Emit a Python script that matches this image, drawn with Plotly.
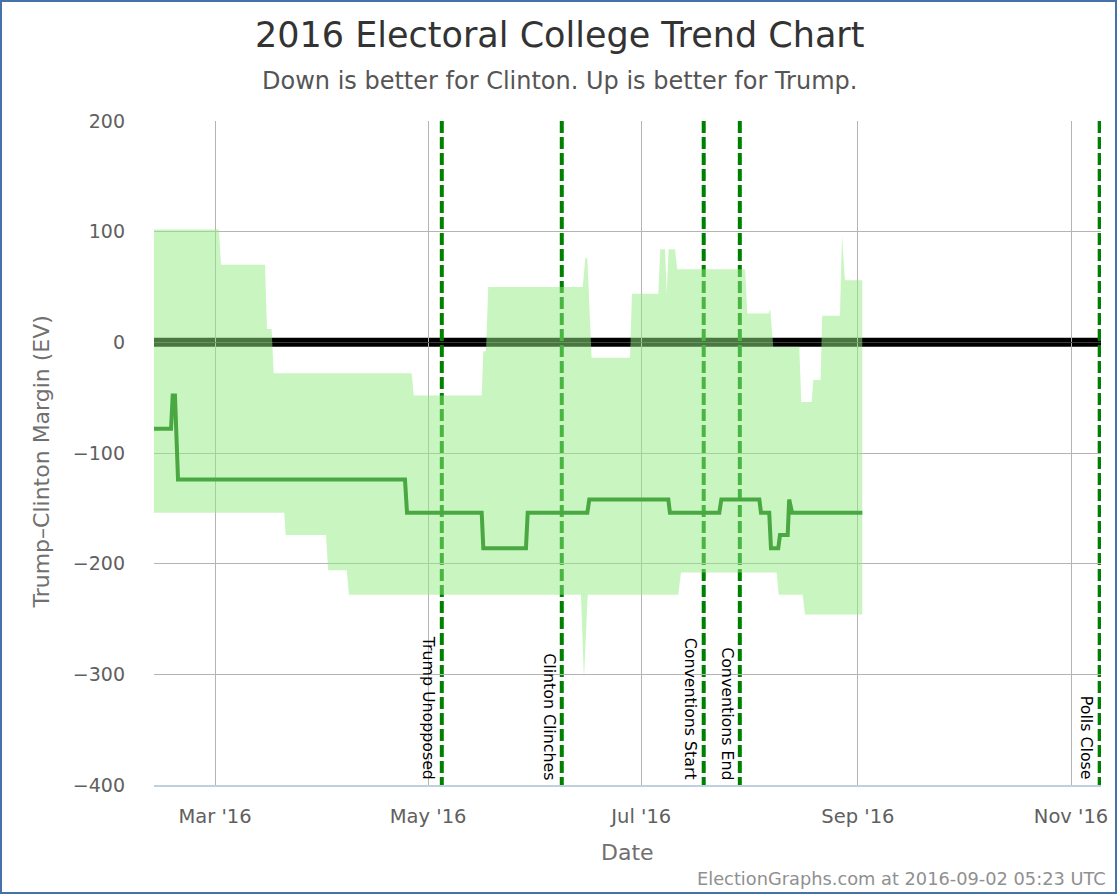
import plotly.graph_objects as go

# ---------------- data ----------------
upper_dates = [
    "2016-02-12 13:00", "2016-03-02 03:00", "2016-03-02 17:00", "2016-03-15 07:30",
    "2016-03-15 21:00", "2016-03-17 05:00", "2016-03-17 19:00", "2016-04-26 07:00",
    "2016-04-26 21:00", "2016-05-16 08:00", "2016-05-16 19:00", "2016-05-17 13:30",
    "2016-05-18 05:00", "2016-06-14 06:00", "2016-06-15 00:00", "2016-06-15 13:30",
    "2016-06-16 19:00", "2016-06-27 19:00", "2016-06-28 08:00", "2016-07-05 21:00",
    "2016-07-06 11:00", "2016-07-07 19:00", "2016-07-08 07:00", "2016-07-08 20:00",
    "2016-07-10 16:00", "2016-07-11 07:00", "2016-07-30 17:00", "2016-07-31 08:00",
    "2016-08-06 09:00", "2016-08-06 22:00", "2016-08-07 19:00", "2016-08-15 05:30",
    "2016-08-15 19:00", "2016-08-18 19:00", "2016-08-19 06:00", "2016-08-21 08:00",
    "2016-08-21 19:00", "2016-08-26 21:00", "2016-08-27 11:00", "2016-08-28 07:00",
    "2016-09-02 06:00",
]
upper_values = [
    102, 102, 70, 70,
    12, 12, -28, -28,
    -48, -48, -8, -8,
    50, 50, 76, 76,
    -14, -14, 44, 44,
    84, 84, 44, 84,
    84, 66, 66, 26,
    26, 30, -4, -4,
    -54, -54, -34, -34,
    24, 24, 96, 56,
    56,
]

lower_dates = [
    "2016-02-12 13:00", "2016-03-20 20:00", "2016-03-21 05:30", "2016-04-01 18:30",
    "2016-04-02 10:00", "2016-04-07 17:00", "2016-04-08 08:00", "2016-06-13 18:00",
    "2016-06-14 14:30", "2016-06-15 16:00", "2016-07-11 14:00", "2016-07-12 09:00",
    "2016-08-08 18:00", "2016-08-09 08:00", "2016-08-16 05:00", "2016-08-16 20:30",
    "2016-09-02 06:00",
]
lower_values = [
    -154, -154, -174, -174,
    -206, -206, -228, -228,
    -304, -228, -228, -208,
    -208, -228, -228, -246,
    -246,
]

center_dates = [
    "2016-02-12 13:00", "2016-02-17 10:00", "2016-02-17 21:30", "2016-02-18 13:00",
    "2016-02-19 10:00", "2016-04-24 09:00", "2016-04-24 23:00", "2016-05-16 08:00",
    "2016-05-16 19:00", "2016-05-29 00:00", "2016-05-29 12:00", "2016-06-15 13:30",
    "2016-06-16 03:00", "2016-07-08 18:00", "2016-07-09 05:00", "2016-07-23 08:00",
    "2016-07-23 22:00", "2016-08-03 19:00", "2016-08-04 06:30", "2016-08-06 15:00",
    "2016-08-07 03:00", "2016-08-09 05:00", "2016-08-09 17:00", "2016-08-11 22:00",
    "2016-08-12 08:00", "2016-08-13 04:00", "2016-09-02 06:00",
]
center_values = [
    -78, -78, -48, -48,
    -124, -124, -154, -154,
    -186, -186, -154, -154,
    -142, -142, -154, -154,
    -142, -142, -154, -154,
    -186, -186, -174, -174,
    -142, -154, -154,
]

event_names = ["Trump Unopposed", "Clinton Clinches", "Conventions Start",
               "Conventions End", "Polls Close"]
event_dates = ["2016-05-04 22:00", "2016-06-08 06:00", "2016-07-18 21:00",
               "2016-07-29 05:00", "2016-11-09 05:00"]

x_tick_vals = ["2016-03-01", "2016-05-01", "2016-07-01", "2016-09-01", "2016-11-01"]
x_tick_text = ["Mar '16", "May '16", "Jul '16", "Sep '16", "Nov '16"]
y_tick_vals = [-400, -300, -200, -100, 0, 100, 200]

x_range = ["2016-02-12 13:00", "2016-11-09 14:00"]
y_range = [-400, 200]

# ---------------- layout geometry ----------------
W, H = 1120, 896
ML, MR, MT, MB = 154, 19, 121, 111
PW = W - ML - MR
PH = H - MT - MB

def px(xp):
    return (xp - ML) / PW

def py(yp):
    return (H - MB - yp) / PH

FONT = "DejaVu Sans"

fig = go.Figure()

# center line (drawn under the band)
fig.add_trace(go.Scatter(
    x=center_dates, y=center_values, mode="lines",
    line=dict(color="rgb(0,100,0)", width=4),
    hoverinfo="skip", showlegend=False,
))

# range band (polygon from upper then reversed lower)
band_x = upper_dates + lower_dates[::-1]
band_y = upper_values + lower_values[::-1]
fig.add_trace(go.Scatter(
    x=band_x, y=band_y, mode="lines", fill="toself",
    fillcolor="rgba(146,236,130,0.5)", line=dict(width=0),
    hoverinfo="skip", showlegend=False,
))

shapes = []
# heavy black zero line
shapes.append(dict(type="line", xref="paper", yref="y", x0=0, x1=1, y0=0, y1=0,
                   line=dict(color="black", width=9), layer="below"))
# event lines
for d in event_dates:
    shapes.append(dict(type="line", xref="x", yref="paper", x0=d, x1=d, y0=1, y1=0,
                       line=dict(color="#008000", width=4, dash="12px,4px"),
                       layer="between"))
# outer border
shapes.append(dict(type="rect", xref="paper", yref="paper",
                   x0=px(1), x1=px(1116), y0=py(893), y1=py(1),
                   line=dict(color="#4572A7", width=2), fillcolor="rgba(0,0,0,0)",
                   layer="above"))

annotations = []
for name, d in zip(event_names, event_dates):
    annotations.append(dict(
        x=d, xref="x", y=0, yref="paper", text=name, textangle=90,
        showarrow=False, xanchor="center", yanchor="bottom",
        xshift=-12.5, yshift=3,
        font=dict(family=FONT, size=15.8, color="#000000"),
    ))

annotations += [
    dict(x=px(559), y=py(35), xref="paper", yref="paper",
         text="2016 Electoral College Trend Chart", showarrow=False,
         xanchor="center", yanchor="middle",
         font=dict(family=FONT, size=35, color="#333333")),
    dict(x=px(559), y=py(81), xref="paper", yref="paper",
         text="Down is better for Clinton. Up is better for Trump.", showarrow=False,
         xanchor="center", yanchor="middle",
         font=dict(family=FONT, size=24, color="#555555")),
    dict(x=px(41), y=py(611), xref="paper", yref="paper",
         text="Trump\u2013Clinton Margin (EV)", showarrow=False, textangle=-90,
         xanchor="center", yanchor="bottom",
         font=dict(family=FONT, size=22, color="#707070")),
    dict(x=0.5, y=py(852), xref="paper", yref="paper",
         text="Date", showarrow=False, xanchor="center", yanchor="middle",
         font=dict(family=FONT, size=22, color="#707070")),
    dict(x=px(1108), y=py(878), xref="paper", yref="paper",
         text="ElectionGraphs.com at 2016-09-02 05:23 UTC", showarrow=False,
         xanchor="right", yanchor="middle",
         font=dict(family=FONT, size=17.8, color="#909090")),
]

fig.update_layout(
    width=W, height=H,
    margin=dict(l=ML, r=MR, t=MT, b=MB, pad=0),
    paper_bgcolor="white", plot_bgcolor="white",
    showlegend=False,
    shapes=shapes, annotations=annotations,
    xaxis=dict(
        type="date", range=x_range, tickmode="array",
        tickvals=x_tick_vals, ticktext=x_tick_text,
        showgrid=True, gridcolor="#b4b4b4", gridwidth=1,
        showline=True, linecolor="#c0d0e0", linewidth=2,
        ticks="", ticklabelstandoff=13,
        tickfont=dict(family=FONT, size=19.5, color="#606060"),
        zeroline=False, fixedrange=True,
    ),
    yaxis=dict(
        range=y_range, tickmode="array", tickvals=y_tick_vals,
        showgrid=True, gridcolor="#b4b4b4", gridwidth=1,
        showline=False, ticks="", ticklabelstandoff=28,
        tickfont=dict(family=FONT, size=19, color="#606060"),
        zeroline=True, zerolinecolor="#3c3c3c", zerolinewidth=1,
        fixedrange=True,
    ),
)

fig.write_html("out.html", include_plotlyjs=True, full_html=True,
               config={"displayModeBar": False})
